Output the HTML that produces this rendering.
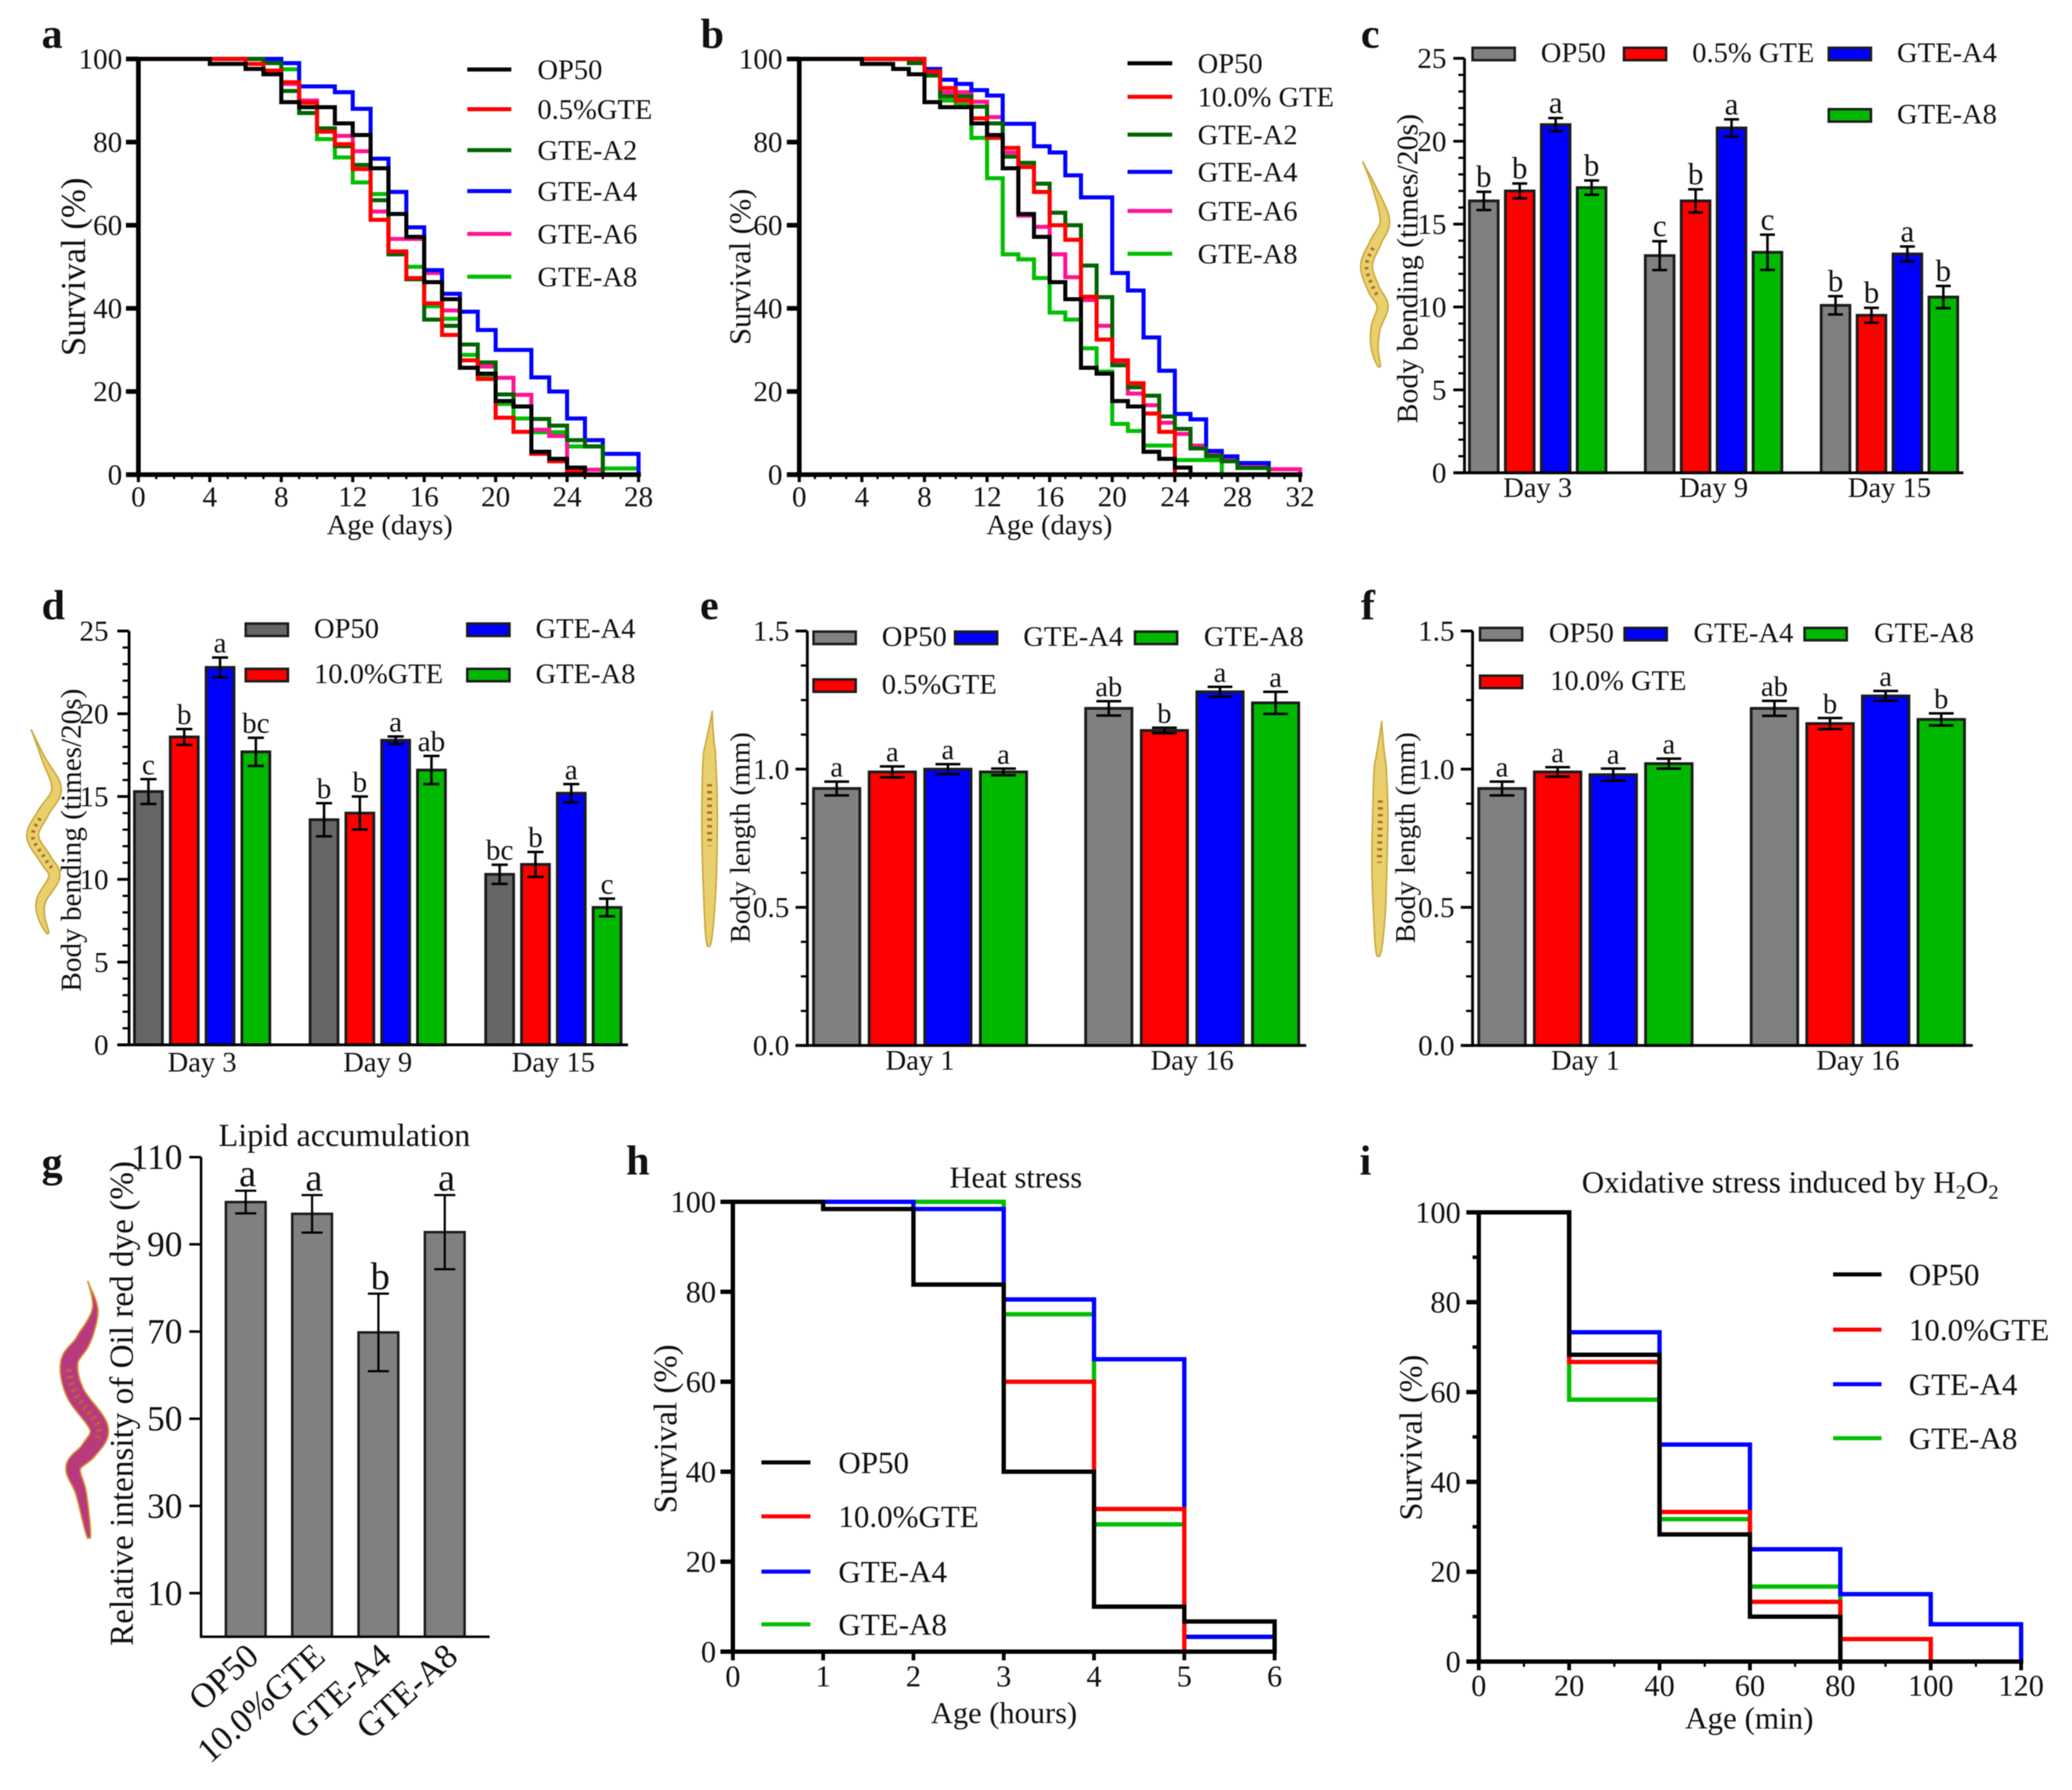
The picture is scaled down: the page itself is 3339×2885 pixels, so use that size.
<!DOCTYPE html>
<html lang="en">
<head>
<meta charset="utf-8">
<title>GTE survival, body bending, body length and stress panels</title>
<style>
html,body{margin:0;padding:0;background:#fff;}
#figure{display:block;width:3339px;height:2885px;font-family:"Liberation Serif","DejaVu Serif",serif;filter:blur(0.7px);}
</style>
</head>
<body>
<svg id="figure" xmlns="http://www.w3.org/2000/svg" width="3339" height="2885" viewBox="0 0 3339 2885"></svg>
<script>
/* ---------- panel a data: survival per day interval ---------- */
const aDayTicks=[0,4,8,12,16,20,24,28];
const survivalTicks=[0,20,40,60,80,100];
const aOP50=[100,100,100,100,98.8,98.8,97.6,96.3,89.6,88.4,88.4,84.5,81.7,73.7,62.7,57.2,46.3,42.2,25.7,24.3,17.7,16.4,5.5,3.8,1.7];
const aGTE=[100,100,100,100,100,100,98.8,97.2,94.4,89.5,82.5,79.5,73.5,61.3,53.7,47.3,41.2,33.6,27.5,23,13.7,10.3,5,3.2,1];
const aA2=[100,100,100,100,100,100,100,99,92.3,87,83.3,79,74.5,66,53,47,37.3,35.8,31.3,27,19.3,16.4,13.4,11.8,8.3,6.8];
const aA4=[100,100,100,100,100,100,100,100,99,93.4,93.4,92,88,76,68,59.5,49.2,43.5,39.2,34.8,30,30,23.4,20,13.5,8.3,5,5];
const aA6=[100,100,100,100,100,100,100,100,94,90,83,81.5,77.8,63.3,56.7,56.7,48.5,39.5,27.5,26,23.3,19.2,10.8,9.3,1.4,1.2];
const aA8=[100,100,100,100,100,100,100,100,97.5,89.5,80.7,76.3,70.3,67.5,53,50,40.5,37.5,28.8,24,17,13.5,10.2,10.2,6.8,6.8,1.5,1.5];
/* ---------- panel b data ---------- */
const bDayTicks=[0,4,8,12,16,20,24,28,32];
const bOP50=[100,100,100,100,98.8,98.8,97.6,96.3,89.6,88.4,88.4,84.5,81.7,73.7,62.7,57.2,46.3,42.2,25.7,24.3,17.7,16.4,5.5,3.8,1.7];
const bGTE=[100,100,100,100,100,100,100,100,97,93,90,85.7,81,78.6,74,68,60,56.5,42.8,32.5,27.5,22,14.7,10.3];
const bA2=[100,100,100,100,100,100,100,99,96,91,91,88.5,84.5,76.5,75,70,63,60,50.3,42.7,26.3,21,19,14,11,6.3,4.5,3.2,1.6,1.6];
const bA4=[100,100,100,100,100,100,100,100,97.6,95,94,92.5,91.2,84.4,84.4,79,77.5,72,66.7,66.7,48.5,44.3,33,25,14.6,13.3,5.7,4.4,2.8,2.8];
const bA6=[100,100,100,100,100,100,100,100,97,92,92,89.7,86,77.5,62.3,59.6,53,47.5,42,35.8,27,19.5,16.7,12.5,9.8,7,5.3,3.5,2.5,2.5,1.3,1.3];
const bA8=[100,100,100,100,100,100,100,100,96.5,90,89,81,71.3,53,51.8,47.3,39,37.3,30.4,24.8,12.2,10.5,7,7,3.5,3.5,3.5];
/* ---------- panel c data ---------- */
const cGroups=['Day 3','Day 9','Day 15'];
const bendTicks=[0,5,10,15,20,25];
const cOP50=[16.4,13.1,10.1];
const cGTE=[17.0,16.4,9.5];
const cA4=[21.0,20.8,13.2];
const cA8=[17.2,13.3,10.6];
const cOP50Err=[0.55,0.87,0.55];
const cGTEErr=[0.45,0.7,0.45];
const cA4Err=[0.4,0.52,0.45];
const cA8Err=[0.43,1.06,0.67];
const cOP50Sig=['b','c','b'];
const cGTESig=['b','b','b'];
const cA4Sig=['a','a','a'];
const cA8Sig=['b','c','b'];
/* ---------- panel d data ---------- */
const dGroups=['Day 3','Day 9','Day 15'];
const dOP50=[15.3,13.6,10.3];
const dGTE=[18.6,14.0,10.9];
const dA4=[22.8,18.4,15.2];
const dA8=[17.7,16.6,8.3];
const dOP50Err=[0.75,1.0,0.58];
const dGTEErr=[0.48,1.0,0.75];
const dA4Err=[0.6,0.23,0.55];
const dA8Err=[0.85,0.85,0.53];
const dOP50Sig=['c','b','bc'];
const dGTESig=['b','b','b'];
const dA4Sig=['a','a','a'];
const dA8Sig=['bc','ab','c'];
/* ---------- panel e data ---------- */
const eGroups=['Day 1','Day 16'];
const lengthTicks=[0,0.5,1,1.5];
const lengthTickLabels=['0.0','0.5','1.0','1.5'];
const eOP50=[0.93,1.22];
const eGTE=[0.99,1.14];
const eA4=[1.0,1.28];
const eA8=[0.99,1.24];
const eOP50Err=[0.025,0.026];
const eGTEErr=[0.02,0.01];
const eA4Err=[0.018,0.018];
const eA8Err=[0.012,0.04];
const eOP50Sig=['a','ab'];
const eGTESig=['a','b'];
const eA4Sig=['a','a'];
const eA8Sig=['a','a'];
/* ---------- panel f data ---------- */
const fGroups=['Day 1','Day 16'];
const fOP50=[0.93,1.22];
const fGTE=[0.99,1.165];
const fA4=[0.98,1.265];
const fA8=[1.02,1.18];
const fOP50Err=[0.025,0.027];
const fGTEErr=[0.017,0.02];
const fA4Err=[0.022,0.018];
const fA8Err=[0.018,0.022];
const fOP50Sig=['a','ab'];
const fGTESig=['a','b'];
const fA4Sig=['a','a'];
const fA8Sig=['a','b'];
/* ---------- panel g data ---------- */
const gCategories=['OP50','10.0%GTE','GTE-A4','GTE-A8'];
const gValues=[99.7,97,69.8,92.8];
const gErrors=[2.6,4.3,8.9,8.5];
const gSig=['a','a','b','a'];
const gTicks=[10,30,50,70,90,110];
/* ---------- panel h data (null = series hidden under others at 100%) ---------- */
const hHours=[0,1,2,3,4,5,6];
const hOP50=[100,98.4,81.6,40,10,6.7];
const hGTE=[null,null,null,60,31.7];
const hA4=[100,100,98.4,78.3,65,3.3];
const hA8=[100,100,100,75,28.3,3.3];
/* ---------- panel i data ---------- */
const iMinutes=[0,20,40,60,80,100,120];
const iOP50=[100,68.3,28.3,10];
const iGTE=[100,66.7,33.3,13.3,5];
const iA4=[100,73.3,48.3,25,15,8.3];
const iA8=[100,58.3,31.7,16.7];

/* ---------- drawing ---------- */
const NS='http://www.w3.org/2000/svg';
const root=document.getElementById('figure');
const INK='#111';
const C={black:'#000',red:'#ff0000',dark:'#006400',blue:'#0000ff',pink:'#ff1493',green:'#00bf00',gray:'#808080',dgray:'#666666',bgreen:'#00b800'};

function mk(tag,attrs,name,parent,interactive){
  const el=document.createElementNS(NS,tag);
  for(const k in attrs) el.setAttribute(k,attrs[k]);
  
  
  (parent||root).appendChild(el);
  return el;
}
function txt(p,s,x,y,size,name,opt){
  opt=opt||{};
  const a={x:x,y:y,'font-size':size,fill:INK,'text-anchor':opt.anchor||'start','font-family':'"Liberation Serif","DejaVu Serif",serif'};
  if(opt.weight) a['font-weight']=opt.weight;
  if(opt.rot!==undefined) a.transform='rotate('+opt.rot+' '+x+' '+y+')';
  const el=mk('text',a,name,p);
  el.textContent=s;
  return el;
}
function linear(d0,d1,r0,r1){return v=>r0+(v-d0)/(d1-d0)*(r1-r0);}
function ln(p,x1,y1,x2,y2,w,name,color){
  return mk('line',{x1:x1,y1:y1,x2:x2,y2:y2,stroke:color||'#000','stroke-width':w},name,p);
}
function panelGroup(id){return mk('g',{},'panel-'+id,root);}
function letter(p,s,x,y){txt(p,s,x,y,68,'panel-label-'+s,{weight:'bold'});}

function yAxis(p,o){
  ln(p,o.x,o.y(o.top),o.x,o.y(o.bottom)+o.sw/2,o.sw,'y-axis-line');
  o.ticks.forEach((t,i)=>{
    ln(p,o.x-o.major,o.y(t),o.x,o.y(t),o.sw,'y-tick');
    txt(p,o.labels?o.labels[i]:String(t),o.labelX,o.y(t)+o.size*0.335,o.size,'y-tick-label',{anchor:'end'});
  });
  (o.minors||[]).forEach(t=>{ln(p,o.x-o.minor,o.y(t),o.x,o.y(t),o.sw*0.8,'y-minor-tick');});
}
function range(a,b,s){const r=[];for(let v=a;v<=b+1e-9;v+=s)r.push(v);return r;}

function stepSeries(p,times,values,x,y,color,w,name){
  let d='';
  values.forEach((v,i)=>{
    if(v===null) return;
    if(!d) d='M'+x(times[i])+' '+y(v);
    d+=' L'+x(times[i+1])+' '+y(v);
    const next=i+1<values.length?values[i+1]:0;
    d+=' L'+x(times[i+1])+' '+y(next);
  });
  return mk('path',{d:d,fill:'none',stroke:color,'stroke-width':w,'stroke-linejoin':'miter'},name,p);
}
function lineLegend(p,items,x1,x2,tx,size){
  items.forEach(it=>{
    const g=mk('g',{},'legend-entry',p);
    ln(g,x1,it.y,x2,it.y,6.5,'legend-line',it.color);
    txt(g,it.label,tx,it.y+size*0.335,size,'legend-label');
  });
}
function survivalFrame(p,o){
  const x=linear(o.xMin,o.xMax,o.x0,o.x1),y=linear(0,100,o.y0,o.yTop);
  o.series.forEach(s=>stepSeries(p,o.times,s.v,x,y,s.c,o.lw||6.5,s.n));
  yAxis(p,{x:o.x0,y:y,top:100,bottom:0,sw:o.sw,major:o.majorLen,ticks:survivalTicks,labelX:o.labelX,size:o.size,minors:o.yMinors,minor:10});
  ln(p,o.x0-o.majorLen,o.y0,o.x1+o.sw/2,o.y0,o.sw,'x-axis-line');
  o.xTicks.forEach(t=>{
    ln(p,x(t),o.y0,x(t),o.y0+o.xMajorLen,o.xTickW||5,'x-tick');
    txt(p,String(t),x(t),o.xLabelY,o.size,'x-tick-label',{anchor:'middle'});
  });
  (o.xMinors||[]).forEach(t=>{ln(p,x(t),o.y0,x(t),o.y0+o.xMajorLen*0.6,3.5,'x-minor-tick');});
  txt(p,o.xTitle,o.xTitleX,o.xTitleY,o.xTitleSize,'x-axis-title',{anchor:'middle'});
  txt(p,'Survival (%)',o.yTitleX,o.yTitleY,o.yTitleSize,'y-axis-title',{anchor:'middle',rot:-90});
}
function barFrame(p,o){
  const y=linear(o.min,o.max,o.y0,o.yTop);
  const colors=o.colors;
  o.series.forEach((s,si)=>{
    s.v.forEach((v,gi)=>{
      const bx=o.start+gi*o.groupPitch+si*o.pitch;
      mk('rect',{x:bx+2,y:y(v),width:o.barW-4,height:o.y0-y(v),fill:colors[si],stroke:'#1c1c1c','stroke-width':4.5},'bar-'+s.n+'-'+o.groups[gi].toLowerCase().replace(' ','-'),p);
      const cx=bx+o.barW/2,t=y(v+s.e[gi]),b=y(v-s.e[gi]);
      const eb=mk('g',{},'error-bar',p);
      ln(eb,cx,t,cx,b,4,'error-stem');
      ln(eb,cx-o.cap,t,cx+o.cap,t,4,'error-cap-top');
      ln(eb,cx-o.cap,b,cx+o.cap,b,4,'error-cap-bottom');
      txt(p,s.s[gi],cx,t-8,o.sigSize,'significance-letter',{anchor:'middle'});
    });
  });
  yAxis(p,{x:o.axisX,y:y,top:o.max,bottom:o.min,sw:4.5,major:o.majorLen,minor:o.majorLen*0.55,ticks:o.ticks,labels:o.tickLabels,minors:o.minors,labelX:o.labelX,size:o.size});
  ln(p,o.axisX-o.majorLen,o.y0,o.xEnd,o.y0,4.5,'x-axis-line');
  o.groups.forEach((g,i)=>{
    txt(p,g,o.start+i*o.groupPitch+(o.series.length*o.pitch-(o.pitch-o.barW))/2,o.groupY,o.size-1,'x-tick-label',{anchor:'middle'});
  });
  txt(p,o.yTitle,o.yTitleX,o.yTitleY,o.yTitleSize,'y-axis-title',{anchor:'middle',rot:-90});
  o.legend.forEach(l=>{
    const g=mk('g',{},'legend-entry',p);
    mk('rect',{x:l.x+2,y:l.y+2,width:68,height:20,fill:l.c,stroke:'#1c1c1c','stroke-width':4},'legend-swatch',g);
    txt(g,l.t,l.tx,l.y+25,o.legendSize||46,'legend-label');
  });
}
/* decorative worm illustrations: tapered body built from a sinuous centre line */
function worm(p,pts,ox,oy,sx,sy,maxW,body,edge,mark,name){
  const P=pts.map(q=>[ox+q[0]*sx,oy+q[1]*sy]);
  const s=[];
  for(let i=0;i<P.length-1;i++){
    const a=P[Math.max(i-1,0)],b=P[i],c=P[i+1],d=P[Math.min(i+2,P.length-1)];
    for(let k=0;k<12;k++){
      const t=k/12,t2=t*t,t3=t2*t;
      s.push([0,1].map(j=>0.5*(2*b[j]+(c[j]-a[j])*t+(2*a[j]-5*b[j]+4*c[j]-d[j])*t2+(3*b[j]-a[j]-3*c[j]+d[j])*t3)));
    }
  }
  s.push(P[P.length-1]);
  const L=[],R=[];
  s.forEach((q,i)=>{
    const a=s[Math.max(i-1,0)],b=s[Math.min(i+1,s.length-1)];
    const dx=b[0]-a[0],dy=b[1]-a[1],n=Math.hypot(dx,dy)||1;
    const u=i/(s.length-1);
    const w=maxW/2*Math.min(1,Math.pow(Math.sin(Math.PI*Math.min(u*0.98+0.01,1)),0.55))*(u<0.2?Math.max(u/0.2,0.08):1);
    L.push((q[0]-dy/n*w).toFixed(1)+' '+(q[1]+dx/n*w).toFixed(1));
    R.unshift((q[0]+dy/n*w).toFixed(1)+' '+(q[1]-dx/n*w).toFixed(1));
  });
  const g=mk('g',{},name,p);
  mk('path',{d:'M'+L.join(' L')+' L'+R.join(' L')+'Z',fill:body,stroke:edge,'stroke-width':2.5},'worm-body',g);
  const mid=s.map(q=>q[0].toFixed(1)+' '+q[1].toFixed(1));
  mk('path',{d:'M'+mid.slice(Math.floor(s.length*0.36),Math.floor(s.length*0.62)).join(' L'),fill:'none',stroke:mark,'stroke-width':maxW*0.32,'stroke-dasharray':'4 7'},'worm-gut',g);
}

/* ---- panel a ---- */
(function(){
  const p=panelGroup('a');
  letter(p,'a',67,77);
  survivalFrame(p,{times:range(0,28,1),xMin:0,xMax:28,x0:223,x1:1029,y0:765,yTop:95,sw:7.5,majorLen:20,labelX:197,size:47,
    xTicks:aDayTicks,xMinors:range(0,28,1).filter(d=>d%4),xMajorLen:12,xLabelY:816,xTitle:'Age (days)',xTitleX:628,xTitleY:861,xTitleSize:46,yTitleX:137,yTitleY:430,yTitleSize:56,
    series:[{v:aA8,c:C.green,n:'line-gte-a8'},{v:aA6,c:C.pink,n:'line-gte-a6'},{v:aA4,c:C.blue,n:'line-gte-a4'},{v:aA2,c:C.dark,n:'line-gte-a2'},{v:aGTE,c:C.red,n:'line-0.5-gte'},{v:aOP50,c:C.black,n:'line-op50'}]});
  lineLegend(p,[{y:112,color:C.black,label:'OP50'},{y:176,color:C.red,label:'0.5%GTE'},{y:242,color:C.dark,label:'GTE-A2'},{y:308,color:C.blue,label:'GTE-A4'},{y:377,color:C.pink,label:'GTE-A6'},{y:446,color:C.green,label:'GTE-A8'}],753,824,866,46);
})();
/* ---- panel b ---- */
(function(){
  const p=panelGroup('b');
  letter(p,'b',1129,77);
  survivalFrame(p,{times:range(0,32,1),xMin:0,xMax:32,x0:1288,x1:2095,y0:765,yTop:95,sw:7.5,majorLen:20,labelX:1261,size:47,
    xTicks:bDayTicks,xMinors:range(0,32,1).filter(d=>d%4),xMajorLen:12,xLabelY:816,xTitle:'Age (days)',xTitleX:1691,xTitleY:861,xTitleSize:46,yTitleX:1209,yTitleY:430,yTitleSize:49,
    series:[{v:bA8,c:C.green,n:'line-gte-a8'},{v:bA6,c:C.pink,n:'line-gte-a6'},{v:bA4,c:C.blue,n:'line-gte-a4'},{v:bA2,c:C.dark,n:'line-gte-a2'},{v:bGTE,c:C.red,n:'line-10-gte'},{v:bOP50,c:C.black,n:'line-op50'}]});
  lineLegend(p,[{y:102,color:C.black,label:'OP50'},{y:156,color:C.red,label:'10.0% GTE'},{y:217,color:C.dark,label:'GTE-A2'},{y:277,color:C.blue,label:'GTE-A4'},{y:340,color:C.pink,label:'GTE-A6'},{y:409,color:C.green,label:'GTE-A8'}],1817,1889,1930,46);
})();
/* ---- panel c ---- */
(function(){
  const p=panelGroup('c');
  letter(p,'c',2193,77);
  worm(p,[[22,455],[48,530],[70,620],[50,680],[30,745],[45,810],[65,860],[50,920],[48,980],[58,1030]],2180,0,0.739,0.574,19,'#ead06c','#c9a83e','#a8702a','worm-illustration');
  barFrame(p,{groups:cGroups,colors:[C.gray,C.red,C.blue,C.bgreen],
    series:[{n:'op50',v:cOP50,e:cOP50Err,s:cOP50Sig},{n:'gte',v:cGTE,e:cGTEErr,s:cGTESig},{n:'gte-a4',v:cA4,e:cA4Err,s:cA4Sig},{n:'gte-a8',v:cA8,e:cA8Err,s:cA8Sig}],
    min:0,max:25,y0:762,yTop:94,start:2366,barW:50.3,pitch:57.9,groupPitch:283.4,cap:12,axisX:2360,majorLen:18,ticks:bendTicks,minors:range(0,25,1).filter(v=>v%5),labelX:2331,size:47,xEnd:3164,groupY:801,sigSize:50,
    yTitle:'Body bending (times/20s)',yTitleX:2284,yTitleY:433,yTitleSize:48,
    legend:[{x:2371,y:75,c:C.gray,t:'OP50',tx:2483},{x:2615,y:75,c:C.red,t:'0.5% GTE',tx:2727},{x:2945,y:75,c:C.blue,t:'GTE-A4',tx:3057},{x:2945,y:174,c:C.bgreen,t:'GTE-A8',tx:3057}]});
})();
/* ---- panel d ---- */
(function(){
  const p=panelGroup('d');
  letter(p,'d',67,998);
  worm(p,[[72,455],[100,540],[130,630],[100,700],[75,770],[105,840],[125,890],[95,960],[95,1010],[110,1060]],0,930,0.7015,0.542,19,'#ead06c','#c9a83e','#a8702a','worm-illustration');
  barFrame(p,{groups:dGroups,colors:[C.dgray,C.red,C.blue,C.bgreen],
    series:[{n:'op50',v:dOP50,e:dOP50Err,s:dOP50Sig},{n:'gte',v:dGTE,e:dGTEErr,s:dGTESig},{n:'gte-a4',v:dA4,e:dA4Err,s:dA4Sig},{n:'gte-a8',v:dA8,e:dA8Err,s:dA8Sig}],
    min:0,max:25,y0:1684,yTop:1017,start:214.7,barW:49,pitch:57.7,groupPitch:283,cap:13,axisX:208,majorLen:19,ticks:bendTicks,minors:range(0,25,1).filter(v=>v%5),labelX:175,size:47,xEnd:1012,groupY:1727,sigSize:47,
    yTitle:'Body bending (times/20s)',yTitleX:130,yTitleY:1354,yTitleSize:47,
    legend:[{x:394,y:1003,c:C.dgray,t:'OP50',tx:506},{x:751,y:1003,c:C.blue,t:'GTE-A4',tx:863},{x:394,y:1076,c:C.red,t:'10.0%GTE',tx:506},{x:751,y:1076,c:C.bgreen,t:'GTE-A8',tx:863}]});
})();
/* ---- panel e ---- */
(function(){
  const p=panelGroup('e');
  letter(p,'e',1128,998);
  worm(p,[[68,400],[62,520],[62,650],[62,800],[62,950],[60,1098]],1100,930,0.7015,0.542,25,'#ead06c','#c9a83e','#a8702a','worm-illustration');
  barFrame(p,{groups:eGroups,colors:[C.gray,C.red,C.blue,C.bgreen],
    series:[{n:'op50',v:eOP50,e:eOP50Err,s:eOP50Sig},{n:'gte',v:eGTE,e:eGTEErr,s:eGTESig},{n:'gte-a4',v:eA4,e:eA4Err,s:eA4Sig},{n:'gte-a8',v:eA8,e:eA8Err,s:eA8Sig}],
    min:0,max:1.5,y0:1685,yTop:1017,start:1309,barW:78.6,pitch:89.6,groupPitch:438.5,cap:20,axisX:1301,majorLen:19,ticks:lengthTicks,tickLabels:lengthTickLabels,minors:range(0,1.5,0.125).filter(v=>Math.abs(v*2-Math.round(v*2))>0.01),labelX:1272,size:47,xEnd:2105,groupY:1724,sigSize:46,
    yTitle:'Body length (mm)',yTitleX:1208,yTitleY:1350,yTitleSize:46,
    legend:[{x:1309,y:1016,c:C.gray,t:'OP50',tx:1421},{x:1537,y:1016,c:C.blue,t:'GTE-A4',tx:1649},{x:1827,y:1016,c:C.bgreen,t:'GTE-A8',tx:1940},{x:1309,y:1093,c:C.red,t:'0.5%GTE',tx:1421}]});
})();
/* ---- panel f ---- */
(function(){
  const p=panelGroup('f');
  letter(p,'f',2193,998);
  worm(p,[[63,430],[60,560],[60,700],[58,850],[58,1000],[56,1128]],2180,930,0.739,0.542,25,'#ead06c','#c9a83e','#a8702a','worm-illustration');
  barFrame(p,{groups:fGroups,colors:[C.gray,C.red,C.blue,C.bgreen],
    series:[{n:'op50',v:fOP50,e:fOP50Err,s:fOP50Sig},{n:'gte',v:fGTE,e:fGTEErr,s:fGTESig},{n:'gte-a4',v:fA4,e:fA4Err,s:fA4Sig},{n:'gte-a8',v:fA8,e:fA8Err,s:fA8Sig}],
    min:0,max:1.5,y0:1685,yTop:1017,start:2381,barW:79,pitch:89.6,groupPitch:439,cap:20,axisX:2373,majorLen:19,ticks:lengthTicks,tickLabels:lengthTickLabels,minors:range(0,1.5,0.125).filter(v=>Math.abs(v*2-Math.round(v*2))>0.01),labelX:2344,size:47,xEnd:3179,groupY:1724,sigSize:46,
    yTitle:'Body length (mm)',yTitleX:2280,yTitleY:1350,yTitleSize:46,
    legend:[{x:2383,y:1010,c:C.gray,t:'OP50',tx:2496},{x:2616,y:1010,c:C.blue,t:'GTE-A4',tx:2729},{x:2906,y:1010,c:C.bgreen,t:'GTE-A8',tx:3020},{x:2383,y:1087,c:C.red,t:'10.0% GTE',tx:2498}]});
})();
/* ---- panel g ---- */
(function(){
  const p=panelGroup('g');
  letter(p,'g',67,1896);
  worm(p,[[222,405],[240,470],[210,540],[175,590],[190,660],[250,740],[225,790],[185,830],[205,890],[225,992]],0,1780,0.638,0.7047,30,'#b83a7c','#d99a3c','#c2603c','worm-illustration');
  const y=linear(0,110,2638,1865);
  gValues.forEach((v,i)=>{
    const bx=362+i*106.9;
    mk('rect',{x:bx+2,y:y(v),width:64,height:y(0)-y(v),fill:C.gray,stroke:'#1c1c1c','stroke-width':4},'bar-'+gCategories[i].toLowerCase(),p);
    const cx=bx+34,t=y(v+gErrors[i]),b=y(v-gErrors[i]);
    const eb=mk('g',{},'error-bar',p);
    ln(eb,cx,t,cx,b,3.5,'error-stem');
    ln(eb,cx-17,t,cx+17,t,3.5,'error-cap-top');
    ln(eb,cx-17,b,cx+17,b,3.5,'error-cap-bottom');
    txt(p,gSig[i],cx+3,t-7,62,'significance-letter',{anchor:'middle'});
    txt(p,gCategories[i],cx+24,2674,56,'x-tick-label',{anchor:'end',rot:-42});
  });
  yAxis(p,{x:324,y:y,top:110,bottom:0,sw:4,major:19,ticks:gTicks,labelX:294,size:57});
  ln(p,322,y(0),789,y(0),4,'x-axis-line');
  txt(p,'Lipid accumulation',555,1847,52,'chart-title',{anchor:'middle'});
  txt(p,'Relative intensity of  Oil red dye (%)',214,2262,53.5,'y-axis-title',{anchor:'middle',rot:-90});
})();
/* ---- panel h ---- */
(function(){
  const p=panelGroup('h');
  letter(p,'h',1009,1893);
  survivalFrame(p,{times:hHours,xMin:0,xMax:6,x0:1181,x1:2054,y0:2662,yTop:1937,sw:7,majorLen:20,labelX:1154,size:49,lw:7,
    xTicks:hHours,xMajorLen:14,xTickW:6,xLabelY:2718,xTitle:'Age (hours)',xTitleX:1618,xTitleY:2777,xTitleSize:49,yTitleX:1090,yTitleY:2303,yTitleSize:53,
    series:[{v:hA8,c:C.green,n:'line-gte-a8'},{v:hA4,c:C.blue,n:'line-gte-a4'},{v:hGTE,c:C.red,n:'line-10-gte'},{v:hOP50,c:C.black,n:'line-op50'}]});
  lineLegend(p,[{y:2357,color:C.black,label:'OP50'},{y:2444,color:C.red,label:'10.0%GTE'},{y:2533,color:C.blue,label:'GTE-A4'},{y:2618,color:C.green,label:'GTE-A8'}],1227,1306,1351,50);
  txt(p,'Heat stress',1637,1914,49,'chart-title',{anchor:'middle'});
})();
/* ---- panel i ---- */
(function(){
  const p=panelGroup('i');
  letter(p,'i',2191,1893);
  survivalFrame(p,{times:iMinutes,xMin:0,xMax:120,x0:2383,x1:3257,y0:2678,yTop:1954,sw:7,majorLen:20,labelX:2354,size:49,lw:7,yMinors:[10,30,50,70,90],
    xTicks:iMinutes,xMinors:[10,30,50,70,90,110],xMajorLen:14,xTickW:6,xLabelY:2733,xTitle:'Age (min)',xTitleX:2819,xTitleY:2786,xTitleSize:50,yTitleX:2291,yTitleY:2317,yTitleSize:52,
    series:[{v:iA8,c:C.green,n:'line-gte-a8'},{v:iA4,c:C.blue,n:'line-gte-a4'},{v:iGTE,c:C.red,n:'line-10-gte'},{v:iOP50,c:C.black,n:'line-op50'}]});
  lineLegend(p,[{y:2054,color:C.black,label:'OP50'},{y:2143,color:C.red,label:'10.0%GTE'},{y:2231,color:C.blue,label:'GTE-A4'},{y:2318,color:C.green,label:'GTE-A8'}],2954,3032,3076,50);
  const t=txt(p,'',2549,1922,50,'chart-title');
  [['Oxidative stress induced by H',0,50],['2',10,33],['O',-10,50],['2',10,33]].forEach(seg=>{
    const s=mk('tspan',{dy:seg[1],'font-size':seg[2]},'title-fragment',t);
    s.textContent=seg[0];
  });
})();
</script>
</body>
</html>
